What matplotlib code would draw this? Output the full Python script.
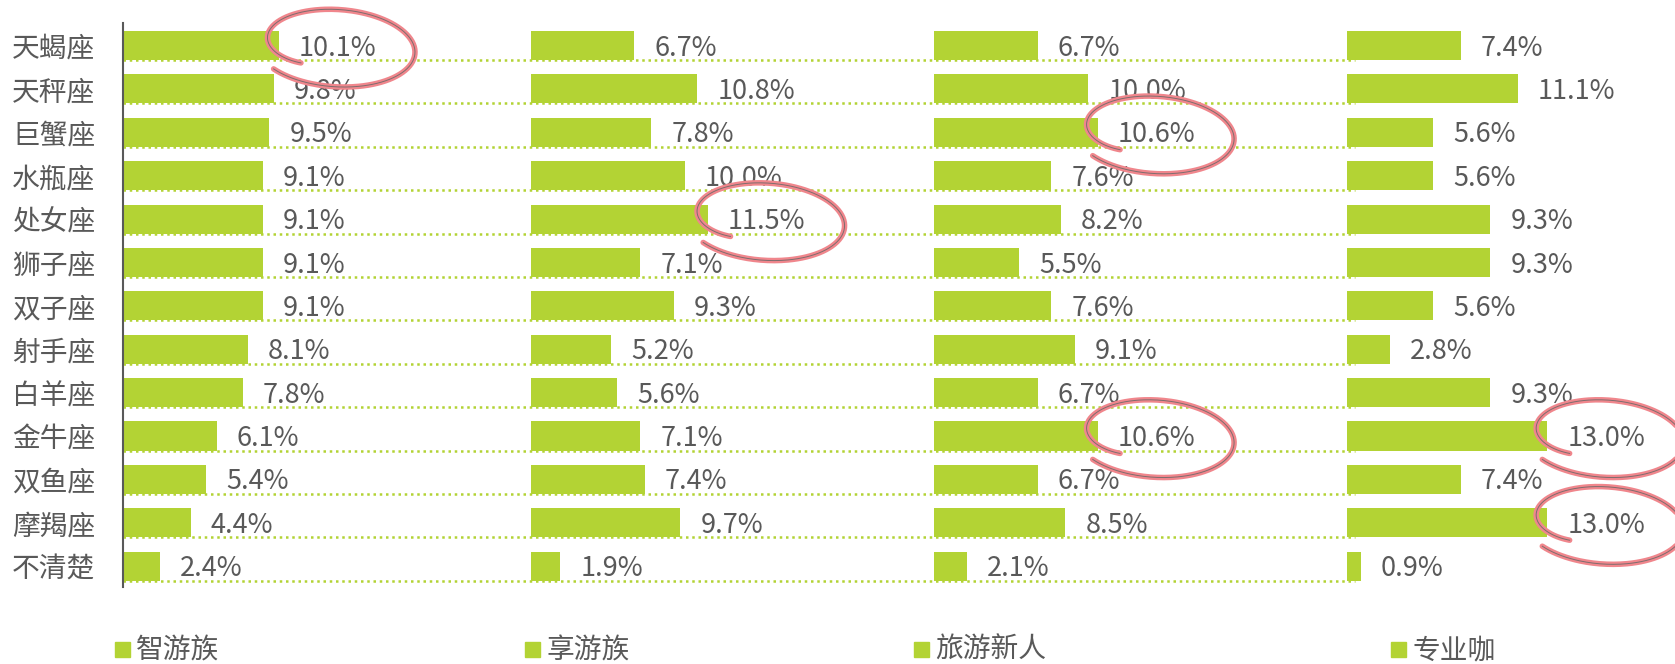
import numpy as np
import matplotlib
matplotlib.use("Agg")
import matplotlib.pyplot as plt
from matplotlib.patches import Rectangle

plt.rcParams['font.family'] = ['Noto Sans CJK SC', 'DejaVu Sans']

signs = ["天蝎座", "天秤座", "巨蟹座", "水瓶座", "处女座", "狮子座", "双子座",
         "射手座", "白羊座", "金牛座", "双鱼座", "摩羯座", "不清楚"]
groups = ["智游族", "享游族", "旅游新人", "专业咖"]

zhi_you = [10.1, 9.8, 9.5, 9.1, 9.1, 9.1, 9.1, 8.1, 7.8, 6.1, 5.4, 4.4, 2.4]
xiang_you = [6.7, 10.8, 7.8, 10.0, 11.5, 7.1, 9.3, 5.2, 5.6, 7.1, 7.4, 9.7, 1.9]
xin_ren = [6.7, 10.0, 10.6, 7.6, 8.2, 5.5, 7.6, 9.1, 6.7, 10.6, 6.7, 8.5, 2.1]
zhuan_ye = [7.4, 11.1, 5.6, 5.6, 9.3, 9.3, 5.6, 2.8, 9.3, 13.0, 7.4, 13.0, 0.9]
series = [zhi_you, xiang_you, xin_ren, zhuan_ye]

BAR = '#b3d334'
GREY = '#595959'
PINK = '#f0868c'

# each group gets its own strip along the shared x axis
offsets = [0, 26.5, 52.7, 79.5]

W, H = 1675, 664
fig = plt.figure(figsize=(W / 100, H / 100), dpi=100)
ax = fig.add_axes([123 / W, 1 - 587 / H, 1 - 123 / W, (587 - 23) / H])
ax.set_xlim(0, 100.8)
ax.set_ylim(12.48, -0.518)

y = np.arange(len(signs))
bh = 0.67

# dotted guide under every row, running behind the first three strips
for i in y:
    ax.plot([0, offsets[3] + 0.5], [i + bh / 2, i + bh / 2], color=BAR,
            lw=1.8, linestyle=(0, (1, 1.5)), zorder=1)


def ring(ax, cx, cy, a=4.7, b=0.82):
    # open, slightly overshooting loop like a pen circle
    th0 = np.deg2rad(141)
    th = np.linspace(th0, th0 - np.deg2rad(368), 300)
    s = np.linspace(0, 1, th.size)
    r = 1.1 - 0.4 * s ** 6
    xs = cx + a * r * np.cos(th)
    ys = cy + b * r * np.sin(th) + 0.1 * np.cos(th)
    ax.plot(xs, ys, color=PINK, lw=4, solid_capstyle='round', zorder=5, clip_on=False)
    ax.plot(xs, ys, color='#7d6d6e', lw=0.7, zorder=6, clip_on=False)


for k, vals in enumerate(series):
    off = offsets[k]
    ax.barh(y, vals, left=off, height=bh, color=BAR, zorder=2)
    top = max(vals)
    for i, v in enumerate(vals):
        ax.text(off + v + 1.3, i + 0.06, f"{v:.1f}%", ha='left', va='center',
                fontsize=19.5, color=GREY, zorder=4)
        if v == top:
            ring(ax, off + v + 3.7, i + 0.05)

ax.set_yticks(y)
ax.set_yticklabels(signs, fontsize=20, color=GREY)
ax.tick_params(axis='y', length=0, pad=20)
ax.set_xticks([])
for side in ['top', 'right', 'bottom']:
    ax.spines[side].set_visible(False)
ax.spines['left'].set_color(GREY)
ax.spines['left'].set_linewidth(1.5)

# legend row along the bottom
legend_x = [115, 525, 914, 1391]
for lx, name in zip(legend_x, groups):
    fig.patches.append(Rectangle((lx / W, 1 - 657 / H), 15 / W, 15 / H,
                                 transform=fig.transFigure, color=BAR))
    fig.text((lx + 21) / W, 1 - 650 / H, name, fontsize=20, color=GREY,
             ha='left', va='center')

fig.savefig("out.png", dpi=100)
